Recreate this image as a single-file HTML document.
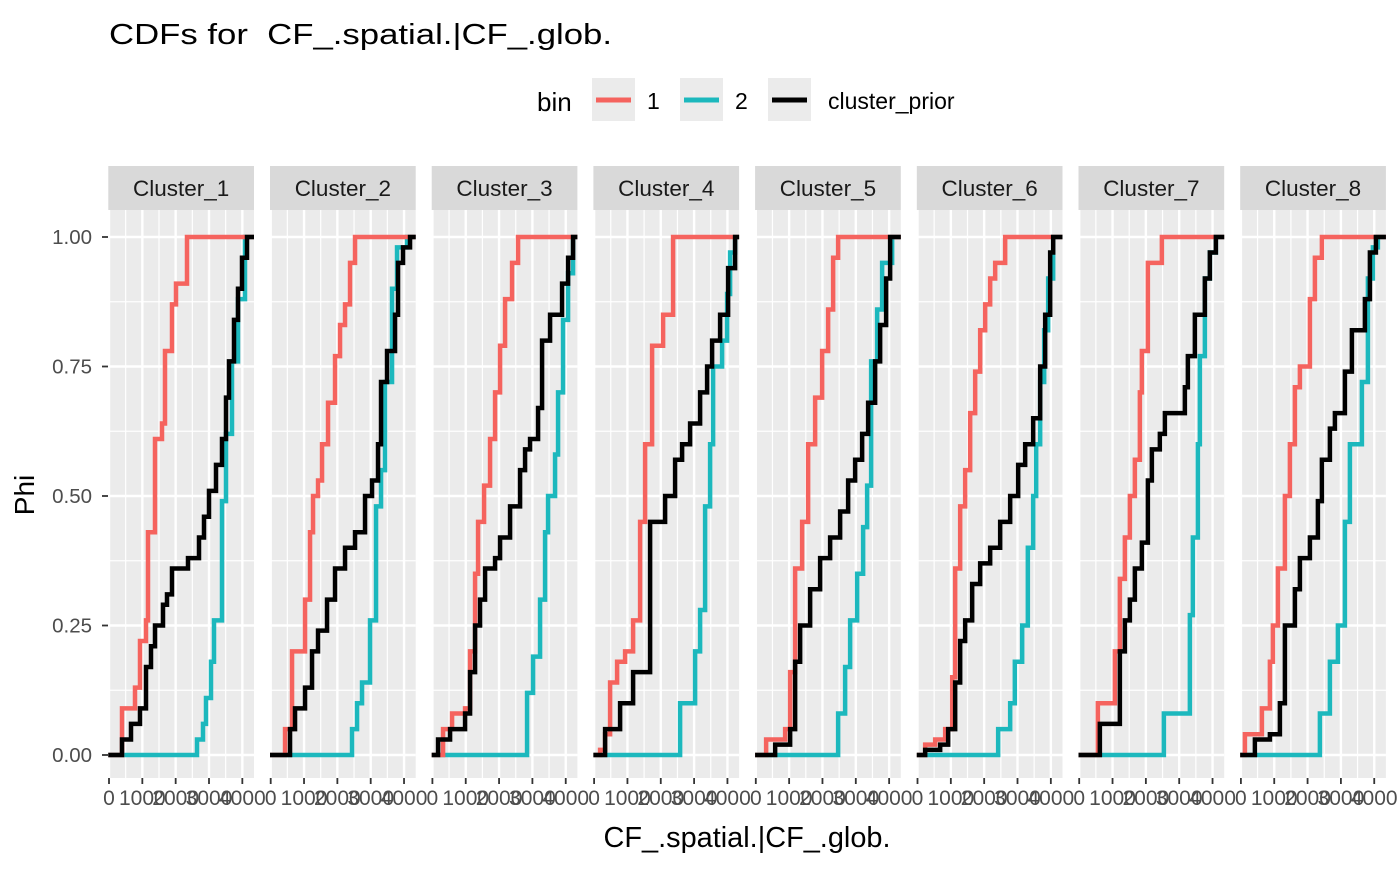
<!DOCTYPE html>
<html><head><meta charset="utf-8"><style>
body{margin:0;background:#fff;}
svg text{font-family:"Liberation Sans",Arial,sans-serif;}
</style></head><body>
<svg id="chart" width="1400" height="865" xmlns="http://www.w3.org/2000/svg">
<rect width="1400" height="865" fill="#fff"/>
<text x="109" y="44" font-size="29" fill="#000" textLength="503" lengthAdjust="spacingAndGlyphs" xml:space="preserve">CDFs for  CF_.spatial.|CF_.glob.</text>
<g>
<text x="537" y="111" font-size="26">bin</text>
<g><rect x="592" y="78" width="43" height="43" fill="#EBEBEB"/><line x1="596" x2="631" y1="100" y2="100" stroke="#F5635E" stroke-width="5"/><text x="647" y="109" font-size="23">1</text></g>
<g><rect x="680" y="78" width="43" height="43" fill="#EBEBEB"/><line x1="684" x2="719" y1="100" y2="100" stroke="#1CB8BD" stroke-width="5"/><text x="735" y="109" font-size="23">2</text></g>
<g><rect x="768" y="78" width="43" height="43" fill="#EBEBEB"/><line x1="772" x2="807" y1="100" y2="100" stroke="#000" stroke-width="5"/><text x="828" y="109" font-size="23">cluster_prior</text></g>
</g>
<g id="panels"></g>
<text transform="translate(34,495) rotate(-90)" text-anchor="middle" font-size="28">Phi</text>
<text x="747" y="847" text-anchor="middle" font-size="29" textLength="287" lengthAdjust="spacingAndGlyphs">CF_.spatial.|CF_.glob.</text>
</svg>
<script>
const clusters=["Cluster_1","Cluster_2","Cluster_3","Cluster_4","Cluster_5","Cluster_6","Cluster_7","Cluster_8"];
const xTicks=[0,1000,2000,3000,4000];
const yTicks=[0,0.25,0.5,0.75,1];
const yTickLabels=["0.00","0.25","0.50","0.75","1.00"];
// bin 1 (red) step points: x, phi
const red1x=[[390,780,930,1110,1170,1380,1590,1680,1890,2010,2340],[430,640,1030,1180,1270,1420,1540,1720,1930,2080,2230,2380,2530],[320,590,980,1130,1280,1370,1550,1730,1880,2030,2180,2390,2570],[180,330,480,690,930,1170,1380,1530,1740,2070,2370],[310,880,1030,1180,1390,1570,1780,1990,2170,2320,2470],[230,530,830,1040,1130,1280,1430,1580,1730,1880,2030,2180,2330,2630],[560,1070,1220,1370,1520,1670,1820,1880,2060,2480],[120,630,870,960,1110,1320,1470,1620,1770,2070,2220,2430]];
const red1y=[[.09,.13,.22,.26,.43,.61,.64,.78,.87,.91,1],[.05,.2,.3,.43,.5,.53,.6,.68,.77,.83,.87,.95,1],[.05,.08,.09,.2,.35,.45,.52,.61,.7,.79,.88,.95,1],[.01,.04,.14,.18,.2,.26,.45,.6,.79,.85,1],[.03,.05,.16,.36,.45,.6,.69,.78,.86,.96,1],[.02,.03,.05,.15,.36,.48,.55,.66,.74,.82,.87,.92,.95,1],[.1,.2,.34,.42,.5,.57,.7,.78,.95,1],[.04,.09,.18,.25,.36,.5,.6,.71,.75,.88,.96,1]];
// bin 2 (cyan)
const cyanx=[[2640,2820,2910,3060,3150,3390,3510,3690,3870,4080],[2440,2590,2740,2980,3160,3310,3430,3640,3790,4090],[2840,3020,3230,3380,3470,3680,3770,3920,4070,4220],[2580,3030,3180,3330,3480,3570,3840,3990,4080,4230],[2470,2680,2830,3040,3220,3340,3460,3640,3790,4090],[2420,2780,2920,3140,3310,3470,3560,3680,3800,3920,4070],[2540,3320,3410,3560,3620,3770,3920,4100],[2370,2670,2910,3120,3270,3630,3810,3960,4110]];
const cyany=[[.03,.06,.11,.18,.26,.49,.62,.76,.88,1],[.05,.1,.14,.26,.48,.55,.72,.9,.98,1],[.12,.19,.3,.43,.5,.58,.7,.84,.93,1],[.1,.2,.28,.48,.6,.75,.8,.89,.97,1],[.08,.17,.26,.35,.44,.52,.76,.86,.95,1],[.05,.1,.18,.25,.4,.5,.6,.72,.82,.92,1],[.08,.27,.42,.6,.77,.92,.97,1],[.08,.18,.25,.45,.6,.72,.92,.98,1]];
// cluster_prior (black)
const blackx=[[390,660,930,1110,1260,1380,1620,1740,1890,2370,2700,2850,3000,3210,3390,3510,3600,3750,3870,3990,4140],[580,730,1030,1240,1420,1690,1930,2230,2530,2830,3040,3220,3310,3490,3730,3820,3970,4180],[170,530,980,1130,1280,1430,1580,1880,2030,2330,2630,2780,2930,3170,3290,3530,3890,4070,4220],[330,780,1170,1680,2130,2430,2640,2880,3180,3390,3540,3780,4020,4230],[580,1030,1180,1330,1630,1930,2230,2530,2770,2980,3190,3370,3580,3730,3910,4030],[230,680,920,1130,1280,1430,1640,1880,2180,2480,2780,3020,3230,3470,3680,3830,3980,4070],[620,1220,1370,1520,1670,1880,2060,2180,2420,2570,3170,3260,3470,3770,3920,4100],[420,870,1170,1320,1620,1770,2070,2310,2430,2670,2820,3120,3330,3720,3870,4050]];
const blacky=[[.03,.06,.09,.17,.21,.25,.29,.31,.36,.38,.42,.46,.51,.56,.61,.69,.76,.84,.9,.96,1],[.05,.09,.13,.2,.24,.3,.36,.4,.43,.5,.53,.6,.72,.78,.85,.95,.98,1],[.03,.05,.08,.16,.25,.3,.36,.38,.42,.48,.55,.59,.61,.67,.8,.85,.91,.96,1],[.05,.1,.16,.45,.5,.57,.6,.64,.7,.75,.8,.85,.94,1],[.02,.05,.18,.25,.32,.38,.42,.47,.53,.57,.62,.68,.76,.83,.92,1],[.01,.02,.05,.14,.22,.26,.33,.37,.4,.45,.5,.56,.6,.65,.75,.85,.97,1],[.06,.2,.26,.3,.36,.41,.53,.59,.62,.66,.71,.77,.85,.92,.97,1],[.03,.04,.1,.25,.32,.38,.42,.49,.57,.63,.66,.74,.82,.88,.97,1]];

const NS="http://www.w3.org/2000/svg";
const g=document.getElementById('panels');
const P0=108.3,PW=145.7,PSTEP=161.7,TOP=210,BOT=778,XMIN=-21,XMAX=4350;
const yS=v=>755-v*518;
function mk(t,a,p){const e=document.createElementNS(NS,t);for(const k in a)e.setAttribute(k,a[k]);(p||g).appendChild(e);return e;}
clusters.forEach((c,i)=>{
  const L=P0+i*PSTEP, xS=v=>L+(v-XMIN)/(XMAX-XMIN)*PW;
  const pg=mk('g',{});
  
  
  const bg=mk('rect',{x:L,y:TOP,width:PW,height:BOT-TOP,fill:'#EBEBEB'},pg);
  
  
  for(let k=0;k<yTicks.length-1;k++){const v=(yTicks[k]+yTicks[k+1])/2;mk('line',{x1:L,x2:L+PW,y1:yS(v),y2:yS(v),stroke:'#fff','stroke-width':1.2},pg);}
  for(let k=0;k<xTicks.length;k++){const v=xTicks[k]+500;if(xS(v)<L+PW)mk('line',{x1:xS(v),x2:xS(v),y1:TOP,y2:BOT,stroke:'#fff','stroke-width':1.2},pg);}
  yTicks.forEach(v=>mk('line',{x1:L,x2:L+PW,y1:yS(v),y2:yS(v),stroke:'#fff','stroke-width':2.4},pg));
  xTicks.forEach(v=>{mk('line',{x1:xS(v),x2:xS(v),y1:TOP,y2:BOT,stroke:'#fff','stroke-width':2.4},pg);
    mk('line',{x1:xS(v),x2:xS(v),y1:BOT,y2:BOT+6,stroke:'#333','stroke-width':1.8},pg);
    const t=mk('text',{x:xS(v),y:BOT+27,'text-anchor':'middle','font-size':21,fill:'#4D4D4D'},pg);t.textContent=v;
    
    });
  const st=mk('rect',{x:L,y:166,width:PW,height:44,fill:'#D9D9D9'},pg);
  
  
  const sl=mk('text',{x:L+PW/2,y:196,'text-anchor':'middle','font-size':22.5,fill:'#1A1A1A'},pg);sl.textContent=c;
  
  
  const series=[[cyanx[i],cyany[i],'#1CB8BD','bin-2-cdf'],[red1x[i],red1y[i],'#F5635E','bin-1-cdf'],[blackx[i],blacky[i],'#000','cluster-prior-cdf']];
  series.forEach(([xs,ys,col,nm])=>{
    let d='M'+L+','+yS(0),prev=0;
    xs.forEach((x,k)=>{d+=' L'+xS(x)+','+yS(prev)+' L'+xS(x)+','+yS(ys[k]);prev=ys[k];});
    d+=' L'+(L+PW)+','+yS(prev);
    const p=mk('path',{d:d,fill:'none',stroke:col,'stroke-width':4.5},pg);
    
    
  });
});
yTicks.forEach((v,k)=>{
  mk('line',{x1:102,x2:108,y1:yS(v),y2:yS(v),stroke:'#333','stroke-width':1.8});
  const t=mk('text',{x:92,y:yS(v)+7,'text-anchor':'end','font-size':20.5,fill:'#4D4D4D'});t.textContent=yTickLabels[k];
  
  
});
</script>
</body></html>
